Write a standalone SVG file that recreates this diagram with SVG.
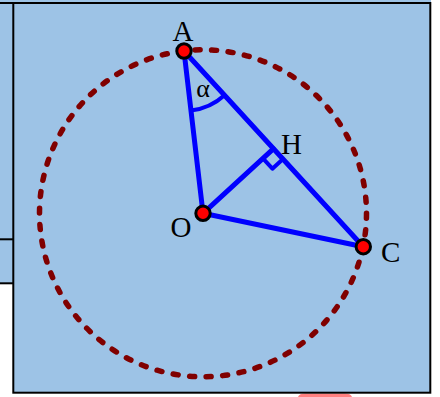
<svg xmlns="http://www.w3.org/2000/svg" width="440" height="397" viewBox="0 0 440 397">
<style>
.bg{fill:#9DC3E6}
.frame{fill:none;stroke:#000;stroke-width:2}
.seg{stroke:#0000FF;stroke-width:5;stroke-linecap:round;fill:none}
.mark{stroke:#0000FF;stroke-width:4;fill:none;stroke-linejoin:round}
.circ{fill:none;stroke:#800000;stroke-width:5.5;stroke-linecap:round;stroke-dasharray:5 11.57}
.pt{fill:#FF0000;stroke:#000;stroke-width:3}
.lbl{font-family:"Liberation Serif","Times New Roman",serif;font-size:29px;fill:#000}
</style>
<rect width="440" height="397" fill="#fff"/>
<rect class="bg" x="0" y="0" width="14" height="283"/>
<rect class="bg" x="13" y="0" width="418" height="393"/>
<path d="M298,397 Q299,393.6 306,393.6 L344,393.6 Q351,393.6 352,397 Z" fill="#FF8080"/>
<line class="frame" x1="0" y1="239.3" x2="13.3" y2="239.3"/>
<line class="frame" x1="0" y1="283.3" x2="13.3" y2="283.3"/>
<line class="frame" x1="0" y1="3" x2="13.3" y2="3"/>
<rect class="frame" x="13.3" y="3" width="417" height="389.7"/>
<circle id="circle" class="circ" cx="203" cy="213.3" r="163.5"/>
<g id="connectors">
<line class="seg" x1="184" y1="51" x2="203" y2="213.3"/>
<line class="seg" x1="184" y1="51" x2="363.3" y2="246.7"/>
<line class="seg" x1="203" y1="213.3" x2="363.3" y2="246.7"/>
<line class="seg" x1="203" y1="213.3" x2="273.3" y2="148.8"/>
<path class="mark" d="M190.9,110.6 A60,60 0 0 0 224.5,95.3"/>
<path class="mark" d="M262.9,158.3 L272.4,168.7 L283.0,159.0"/>
</g>
<g id="alpha"><text class="lbl" x="203" y="97" text-anchor="middle" style="font-size:26px">α</text></g>
<g id="A"><circle class="pt" cx="184" cy="51" r="7.2"/><text class="lbl" x="183" y="41" text-anchor="middle">A</text></g>
<g id="H"><text class="lbl" x="281" y="154">H</text></g>
<g id="O"><circle class="pt" cx="203" cy="213.3" r="7.2"/><text class="lbl" x="170.5" y="237">O</text></g>
<g id="C"><circle class="pt" cx="363.3" cy="246.7" r="7.2"/><text class="lbl" x="381" y="262">C</text></g>
</svg>
